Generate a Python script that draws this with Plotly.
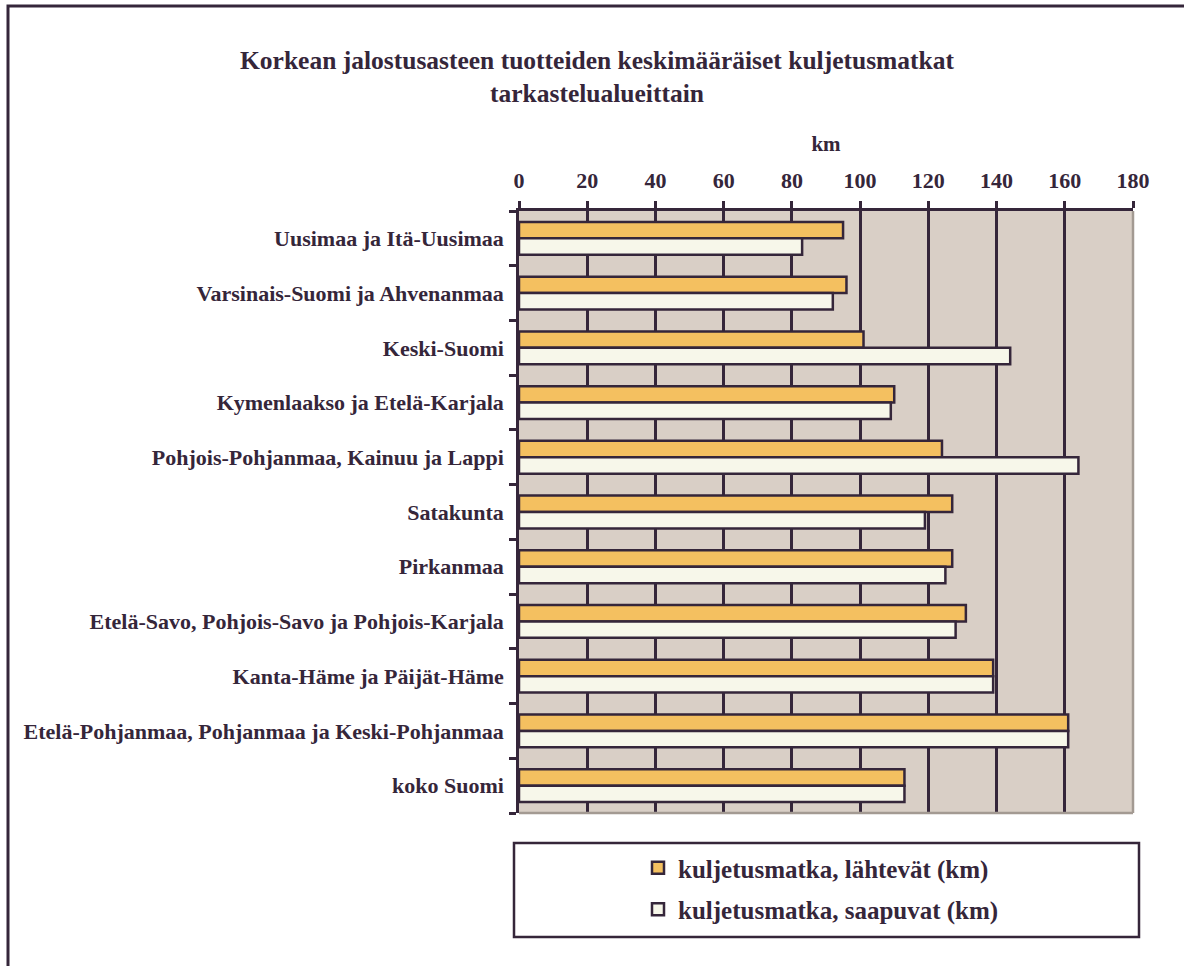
import plotly.graph_objects as go

# Tarkastelualueet (ylhäältä alas)
alueet = [
    "Uusimaa ja Itä-Uusimaa",
    "Varsinais-Suomi ja Ahvenanmaa",
    "Keski-Suomi",
    "Kymenlaakso ja Etelä-Karjala",
    "Pohjois-Pohjanmaa, Kainuu ja Lappi",
    "Satakunta",
    "Pirkanmaa",
    "Etelä-Savo, Pohjois-Savo ja Pohjois-Karjala",
    "Kanta-Häme ja Päijät-Häme",
    "Etelä-Pohjanmaa, Pohjanmaa ja Keski-Pohjanmaa",
    "koko Suomi",
]

# Keskimääräiset kuljetusmatkat (km)
lahtevat = [95, 96, 101, 110, 124, 127, 127, 131, 139, 161, 113]
saapuvat = [83, 92, 144, 109, 164, 119, 125, 128, 139, 161, 113]

x_ticks = [0, 20, 40, 60, 80, 100, 120, 140, 160, 180]

DARK = "#35263A"
FONT = "'Liberation Serif', 'Times New Roman', Times, serif"

W, H = 1184, 966
L, R, T, B = 519, 1133, 211, 813

fig = go.Figure()
fig.add_trace(go.Bar(
    y=alueet, x=lahtevat, orientation="h",
    name="<b>kuljetusmatka, lähtevät (km)</b>",
    legendgroup="a",
    marker=dict(color="#F4C060", line=dict(color=DARK, width=2.5)),
))
fig.add_trace(go.Bar(
    y=alueet, x=saapuvat, orientation="h",
    name="<b>kuljetusmatka, saapuvat (km)</b>",
    legendgroup="b",
    marker=dict(color="#F7F7EA", line=dict(color=DARK, width=2.5)),
))


def px_x(p):
    return (p - L) / (R - L)


def px_y(p):
    return (B - p) / (B - T)


shapes = [
    # plot area right/bottom edges
    dict(type="line", xref="paper", yref="paper", x0=1, x1=1, y0=0, y1=1,
         line=dict(color="#A39A92", width=2.5), layer="above"),
    dict(type="line", xref="paper", yref="paper", x0=0, x1=1, y0=0, y1=0,
         line=dict(color="#A39A92", width=2.5), layer="above"),
    # legend box
    dict(type="rect", xref="paper", yref="paper",
         x0=px_x(514), x1=px_x(1139), y0=px_y(937), y1=px_y(843),
         line=dict(color=DARK, width=2.5), fillcolor="rgba(0,0,0,0)"),
    # outer frame
    dict(type="rect", xref="paper", yref="paper",
         x0=px_x(8), x1=px_x(1195), y0=px_y(980), y1=px_y(6),
         line=dict(color=DARK, width=3), fillcolor="rgba(0,0,0,0)"),
]

fig.update_layout(
    width=W, height=H,
    margin=dict(l=L, r=W - R, t=T, b=H - B),
    paper_bgcolor="white",
    plot_bgcolor="#D9CFC6",
    barmode="group",
    bargap=0.4,
    bargroupgap=0,
    font=dict(family=FONT, color=DARK),
    title=dict(
        text="<b>Korkean jalostusasteen tuotteiden keskimääräiset kuljetusmatkat<br>tarkastelualueittain</b>",
        x=597 / W, xanchor="center", xref="container",
        y=1 - 69 / H, yanchor="top", yref="container",
        font=dict(family=FONT, size=25.5, color=DARK),
    ),
    xaxis=dict(
        side="top", range=[0, 180], tickvals=x_ticks,
        ticktext=[f"<b>{v}</b>" for v in x_ticks],
        tickfont=dict(family=FONT, size=22, color=DARK),
        ticks="outside", ticklen=7, tickwidth=2.5, tickcolor=DARK,
        showline=True, linecolor=DARK, linewidth=2.5,
        showgrid=True, gridcolor=DARK, gridwidth=2.5,
        zeroline=False, fixedrange=True,
        ticklabelstandoff=4,
        title=dict(text="<b>km</b>", font=dict(family=FONT, size=21, color=DARK), standoff=12),
    ),
    yaxis=dict(
        autorange="reversed", type="category",
        tickvals=alueet, ticktext=[f"<b>{a}</b>" for a in alueet],
        tickfont=dict(family=FONT, size=22, color=DARK),
        ticks="outside", tickson="boundaries", ticklen=7, tickwidth=2.5, tickcolor=DARK,
        showline=True, linecolor=DARK, linewidth=2.5,
        showgrid=False, zeroline=False, fixedrange=True,
        ticklabelstandoff=8,
    ),
    showlegend=True,
    legend=dict(
        x=px_x(638), xanchor="left", y=px_y(845), yanchor="top",
        bgcolor="rgba(0,0,0,0)", borderwidth=0,
        font=dict(family=FONT, size=25, color=DARK),
        traceorder="grouped", tracegroupgap=6,
        itemwidth=30,
    ),
    shapes=shapes,
)

fig.write_html("out.html")
